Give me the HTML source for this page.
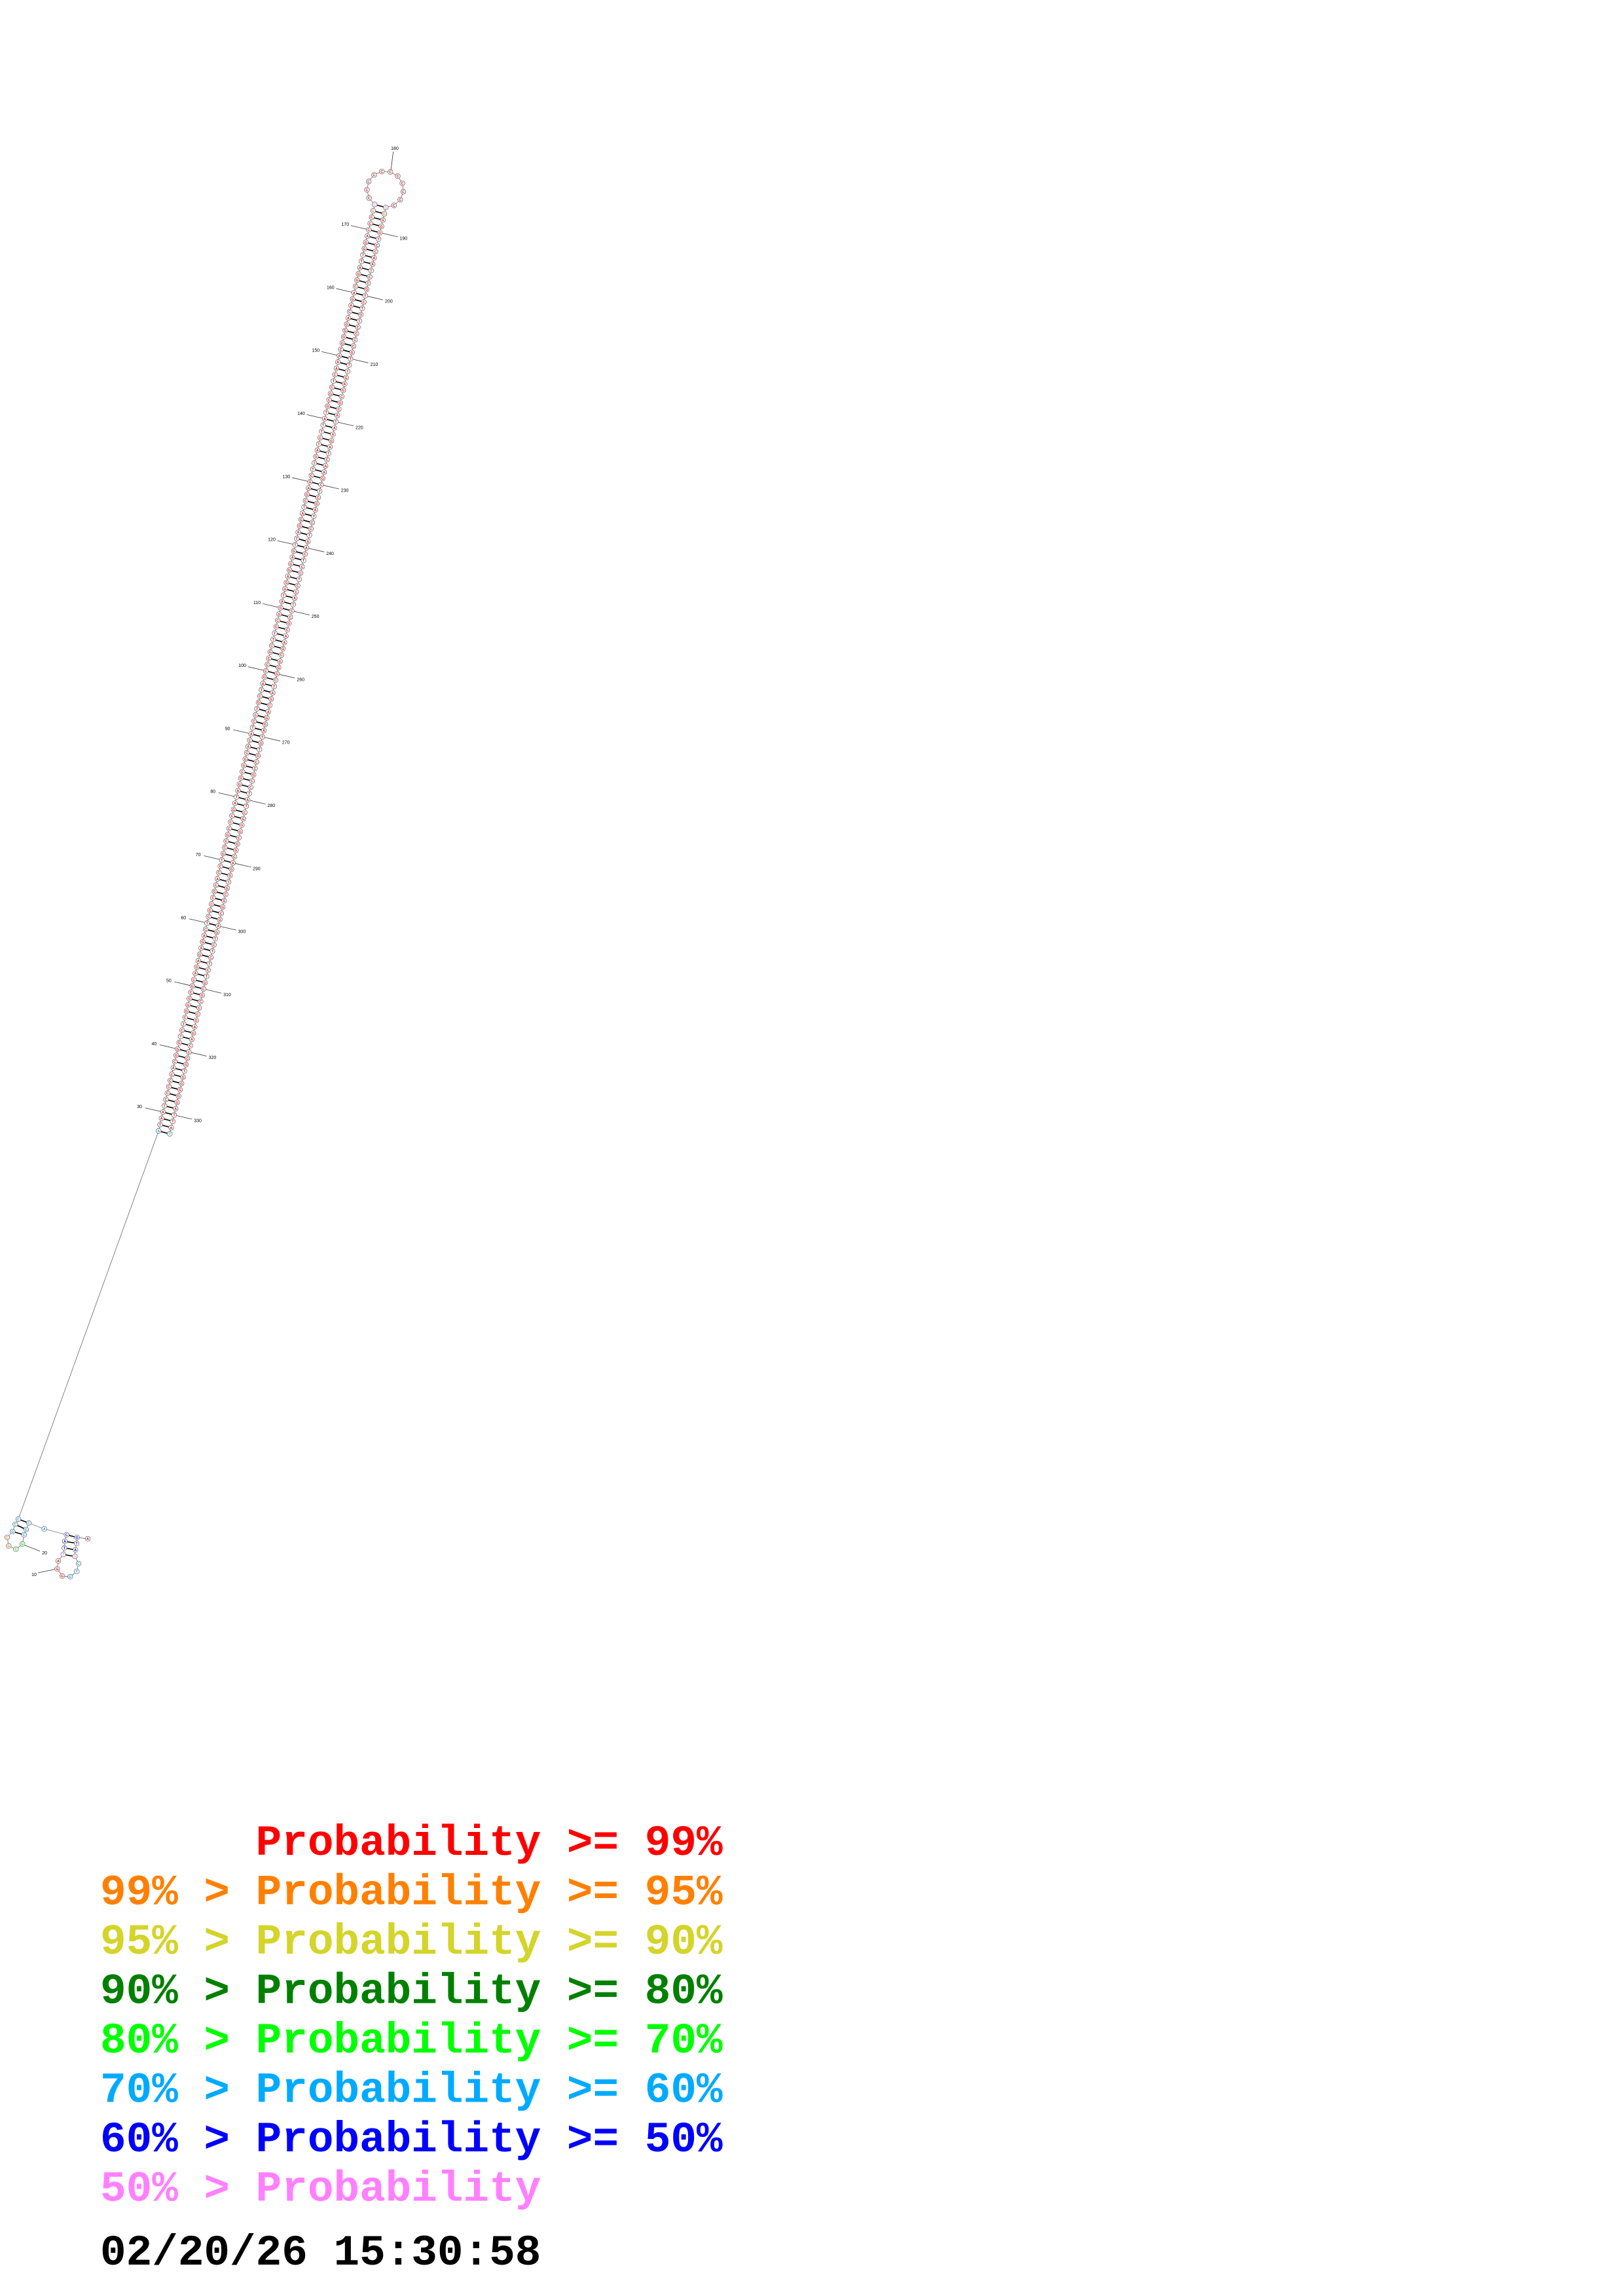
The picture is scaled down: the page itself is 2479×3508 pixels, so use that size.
<!DOCTYPE html>
<html><head><meta charset="utf-8"><style>
html,body{margin:0;padding:0;background:#fff;}
svg{display:block;}
</style></head><body>
<svg id="s" width="2479" height="3508" xmlns="http://www.w3.org/2000/svg">
<rect width="2479" height="3508" fill="#fff"/>
<g id="g"></g>
<g font-family="Liberation Mono, monospace" font-weight="bold" font-size="66" style="white-space:pre">
<text x="153" y="2834" fill="#ff0000" xml:space="preserve">      Probability &gt;= 99%</text>
<text x="153" y="2909.5" fill="#ff8000" xml:space="preserve">99% &gt; Probability &gt;= 95%</text>
<text x="153" y="2985" fill="#d4d42a" xml:space="preserve">95% &gt; Probability &gt;= 90%</text>
<text x="153" y="3060.5" fill="#008000" xml:space="preserve">90% &gt; Probability &gt;= 80%</text>
<text x="153" y="3136" fill="#00ff00" xml:space="preserve">80% &gt; Probability &gt;= 70%</text>
<text x="153" y="3211.5" fill="#00aaff" xml:space="preserve">70% &gt; Probability &gt;= 60%</text>
<text x="153" y="3287" fill="#0000ff" xml:space="preserve">60% &gt; Probability &gt;= 50%</text>
<text x="153" y="3362.5" fill="#ff80ff" xml:space="preserve">50% &gt; Probability</text>
<text x="153" y="3460" fill="#000000" xml:space="preserve">02/20/26 15:30:58</text>
</g>
</svg>
<script>
(function(){
var NS="http://www.w3.org/2000/svg",g=document.getElementById('g');
function el(t,a,txt){var e=document.createElementNS(NS,t);for(var k in a)e.setAttribute(k,a[k]);if(txt!=null)e.textContent=txt;g.appendChild(e);return e;}
var P={},C={},L={};
var R='#ff0000',O='#ff8000',LB='#00aaff',BL='#0000ff',PK='#ff80ff',LG='#00ff00';
function PL(i){return [563.3+(i-170)*2.245,351+(i-170)*(-9.629)];}
var seq="GCAGTCCGATGCTAGCCAGTCGACTGGCATCGGATCCAGCTGACTAGCCGTAGCTCAGCGATGCCTAGACGTCGATCGACTGGCAGCTACGTCCAGGATCCGACTGCAGCTAGGCATCGACGTCAGCTGCGACCTGGCAGCGTACCGGCCGG";
var comp={A:'T',T:'A',G:'C',C:'G'};
for(var i=27;i<=174;i++){
 var p=PL(i);P[i]=p;var ch=seq[(i*7)%seq.length];L[i]=ch;L[360-i]=comp[ch];
 P[360-i]=[p[0]+17,p[1]+4.5];C[i]=R;C[360-i]=R;
}
L[30]='A';L[330]='T';L[27]='A';L[333]='T';L[174]='C';L[186]='G';L[173]='C';L[187]='G';
C[27]=LB;C[333]=LB;C[174]=PK;C[186]=PK;C[173]=O;C[187]=O;
var cx=588.3,cy=289.4,r=27.9,a0=124.9,st=(448-124.9)/12;
for(var k=1;k<=11;k++){var a=(a0+k*st)*Math.PI/180;P[174+k]=[cx+r*Math.cos(a),cy+r*Math.sin(a)];C[174+k]=R;L[174+k]='C';}
var B={26:[28,2321,'C',LB],25:[23.3,2329,'C',LB],24:[19.3,2340,'G',LB],23:[11,2349,'C',O],22:[13.3,2362,'G',O],21:[24.3,2367,'C',LG],20:[34.3,2359,'G',LG],19:[36.7,2345,'C',LB],18:[40,2337,'G',LB],17:[44,2327,'C',LB],16:[67.7,2336,'A',LB],15:[101.7,2345,'C',BL],14:[99,2355,'A',BL],13:[98.3,2365,'T',BL],12:[96.7,2375,'T',PK],11:[89,2385,'A',R],10:[87.3,2397,'G',R],9:[95,2408,'G',R],8:[107.3,2409,'G',LB],7:[117.3,2401,'T',LB],6:[120,2389,'C',LB],5:[114.3,2378,'G',PK],4:[115.3,2368,'A',BL],3:[117,2358,'T',BL],2:[117.7,2349,'G',BL],1:[134,2351,'A',R]};
for(var k in B){P[k]=[B[k][0],B[k][1]];L[k]=B[k][2];C[k]=B[k][3];}
for(var i=1;i<333;i++){var a=P[i],b=P[i+1];el('line',{x1:a[0],y1:a[1],x2:b[0],y2:b[1],stroke:'#777','stroke-width':0.9});}
var pairs=[[2,15],[3,14],[4,13],[5,12],[17,26],[18,25],[19,24]];
for(var i=27;i<=174;i++)pairs.push([i,360-i]);
pairs.forEach(function(q){var a=P[q[0]],b=P[q[1]];el('line',{x1:a[0],y1:a[1],x2:b[0],y2:b[1],stroke:'#000','stroke-width':1.6});});
var n=[-0.974,-0.2269];
function lab(i,dir){var p=P[i];var nx=n[0]*dir,ny=n[1]*dir;
 el('line',{x1:p[0]+nx*4,y1:p[1]+ny*4,x2:p[0]+nx*28,y2:p[1]+ny*28,stroke:'#333','stroke-width':0.8});
 el('text',{x:p[0]+nx*37,y:p[1]+ny*37+2.5,'font-size':7,'font-family':'Liberation Sans, sans-serif','text-anchor':'middle',fill:'#000'},String(i));}
for(var i=30;i<=170;i+=10)lab(i,1);
for(var j=190;j<=330;j+=10)lab(j,-1);
var p=P[180];el('line',{x1:p[0]+1,y1:p[1]-4,x2:600.7,y2:231.7,stroke:'#333','stroke-width':0.8});
el('text',{x:603,y:229,'font-size':7,'font-family':'Liberation Sans, sans-serif','text-anchor':'middle'},'180');
el('line',{x1:83,y1:2398,x2:58,y2:2403,stroke:'#333','stroke-width':0.8});
el('text',{x:52,y:2408,'font-size':7,'font-family':'Liberation Sans, sans-serif','text-anchor':'middle'},'10');
el('line',{x1:38,y1:2361,x2:61,y2:2370,stroke:'#333','stroke-width':0.8});
el('text',{x:68,y:2375,'font-size':7,'font-family':'Liberation Sans, sans-serif','text-anchor':'middle'},'20');
for(var i=1;i<=333;i++){var p=P[i];
 el('circle',{cx:p[0],cy:p[1],r:3.8,fill:'#fff',stroke:'#555','stroke-width':0.7});
 el('text',{x:p[0],y:p[1]+2,'font-size':5.5,'font-weight':'bold','font-family':'Liberation Sans, sans-serif','text-anchor':'middle',fill:C[i]},L[i]);}
})();
</script>
</body></html>
